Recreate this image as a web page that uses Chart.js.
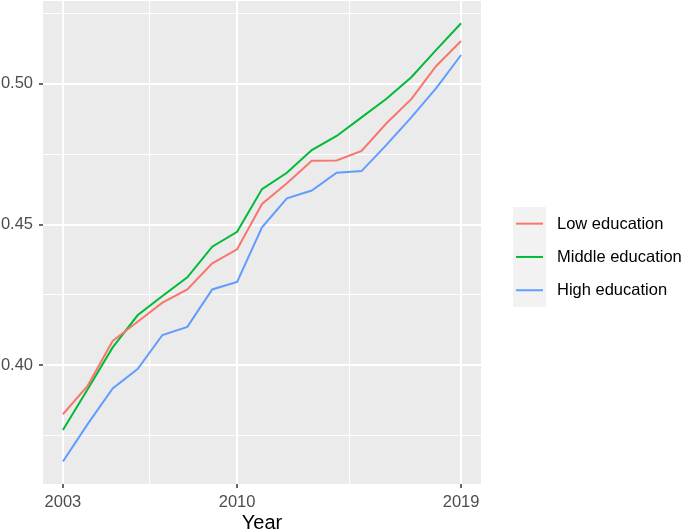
<!DOCTYPE html>
<html>
<head>
<meta charset="utf-8">
<script src="https://cdn.jsdelivr.net/npm/chart.js@4"></script>
<style>
  html, body { margin: 0; padding: 0; background: #FFFFFF; }
  #wrap { width: 685px; height: 532px; }
</style>
</head>
<body>
<div id="wrap"><canvas id="c" width="685" height="532"></canvas></div>
<script>
const years = [2003, 2004, 2005, 2006, 2007, 2008, 2009, 2010, 2011, 2012, 2013, 2014, 2015, 2016, 2017, 2018, 2019];
const lowEducation    = [0.3825, 0.3927, 0.4086, 0.4154, 0.4222, 0.4269, 0.4362, 0.4412, 0.4573, 0.4647, 0.4727, 0.4728, 0.4762, 0.4860, 0.4946, 0.5064, 0.5153];
const middleEducation = [0.3769, 0.3915, 0.4063, 0.4177, 0.4246, 0.4312, 0.4421, 0.4474, 0.4626, 0.4684, 0.4765, 0.4815, 0.4881, 0.4947, 0.5024, 0.5121, 0.5216];
const highEducation   = [0.3657, 0.3791, 0.3917, 0.3986, 0.4107, 0.4136, 0.4269, 0.4296, 0.4490, 0.4593, 0.4621, 0.4684, 0.4690, 0.4783, 0.4881, 0.4985, 0.5103];
const seriesNames = ["Low education", "Middle education", "High education"];
const xMajorTicks = [2003, 2010, 2019];
const xMinorTicks = [2006.5, 2014.5];
const yMajorTicks = [0.40, 0.45, 0.50];
const yMinorTicks = [0.375, 0.425, 0.475, 0.525];
const xTitle = "Year";

const colors = ["#F8766D", "#00BA38", "#619CFF"];
const FONT = '"Liberation Sans", Arial, Helvetica, sans-serif';

function isMajor(v, list) { return list.some(m => Math.abs(m - v) < 1e-9); }
function toPoints(vals) { return vals.map((v, i) => ({ x: years[i], y: v })); }

const bgPlugin = {
  id: 'panelBg',
  beforeDraw(chart) {
    const { ctx, chartArea: a } = chart;
    ctx.save();
    ctx.fillStyle = '#FFFFFF';
    ctx.fillRect(0, 0, chart.width, chart.height);
    ctx.fillStyle = '#EBEBEB';
    ctx.fillRect(a.left, a.top, a.right - a.left, a.bottom - a.top);
    ctx.restore();
  }
};

const legendPlugin = {
  id: 'ggLegend',
  afterDraw(chart) {
    const ctx = chart.ctx;
    const keyX = 513, keyY = 207, keyW = 33, keyH = 33.3;
    const n = chart.data.datasets.length;
    ctx.save();
    ctx.fillStyle = '#F2F2F2';
    ctx.fillRect(keyX, keyY, keyW, keyH * n);
    chart.data.datasets.forEach((ds, i) => {
      const cy = keyY + keyH * i + keyH / 2;
      ctx.strokeStyle = ds.borderColor;
      ctx.lineWidth = 2;
      ctx.beginPath();
      ctx.moveTo(keyX + 3, cy);
      ctx.lineTo(keyX + keyW - 3, cy);
      ctx.stroke();
      ctx.fillStyle = '#000000';
      ctx.font = '16.5px ' + FONT;
      ctx.textBaseline = 'middle';
      ctx.textAlign = 'left';
      ctx.fillText(ds.label, 557, cy + 0.5);
    });
    ctx.restore();
  }
};

const xAll = xMajorTicks.concat(xMinorTicks).sort((a, b) => a - b);
const yAll = yMajorTicks.concat(yMinorTicks).sort((a, b) => a - b);

new Chart(document.getElementById('c'), {
  type: 'line',
  data: {
    datasets: [
      { label: seriesNames[0], data: toPoints(lowEducation), borderColor: colors[0] },
      { label: seriesNames[1], data: toPoints(middleEducation), borderColor: colors[1] },
      { label: seriesNames[2], data: toPoints(highEducation), borderColor: colors[2] }
    ].map(d => Object.assign(d, { borderWidth: 2, pointRadius: 0, tension: 0, fill: false, backgroundColor: d.borderColor }))
  },
  options: {
    responsive: false,
    animation: false,
    devicePixelRatio: 1,
    layout: { padding: { top: 1, right: 204, bottom: 0, left: 0 } },
    plugins: { legend: { display: false }, tooltip: { enabled: false } },
    scales: {
      x: {
        type: 'linear',
        min: 2002.2,
        max: 2019.8,
        afterBuildTicks: s => { s.ticks = xAll.map(v => ({ value: v })); },
        afterFit: s => { s.height = 48; s.paddingLeft = 0; s.paddingRight = 0; },
        border: { display: false },
        grid: {
          color: '#FFFFFF',
          lineWidth: c => isMajor(c.tick.value, xMajorTicks) ? 2 : 1.1,
          tickColor: c => isMajor(c.tick.value, xMajorTicks) ? '#333333' : 'rgba(0,0,0,0)',
          tickLength: 4,
          tickWidth: 1.5
        },
        ticks: {
          autoSkip: false,
          maxRotation: 0,
          padding: 5,
          color: '#4D4D4D',
          font: { family: FONT, size: 16.5 },
          callback: v => isMajor(v, xMajorTicks) ? String(v) : ''
        },
        title: {
          display: true,
          text: xTitle,
          color: '#000000',
          font: { family: FONT, size: 20, lineHeight: 0.85 },
          padding: { top: 0, bottom: 0 }
        }
      },
      y: {
        type: 'linear',
        min: 0.3577,
        max: 0.5295,
        afterBuildTicks: s => { s.ticks = yAll.map(v => ({ value: v })); },
        afterFit: s => { s.width = 43; s.paddingTop = 0; s.paddingBottom = 0; },
        border: { display: false },
        grid: {
          color: '#FFFFFF',
          lineWidth: c => isMajor(c.tick.value, yMajorTicks) ? 2 : 1.1,
          tickColor: c => isMajor(c.tick.value, yMajorTicks) ? '#333333' : 'rgba(0,0,0,0)',
          tickLength: 4,
          tickWidth: 1.5
        },
        ticks: {
          autoSkip: false,
          padding: 6,
          color: '#4D4D4D',
          font: { family: FONT, size: 16.5 },
          callback: v => isMajor(v, yMajorTicks) ? v.toFixed(2) : ''
        }
      }
    }
  },
  plugins: [bgPlugin, legendPlugin]
});
</script>
</body>
</html>
